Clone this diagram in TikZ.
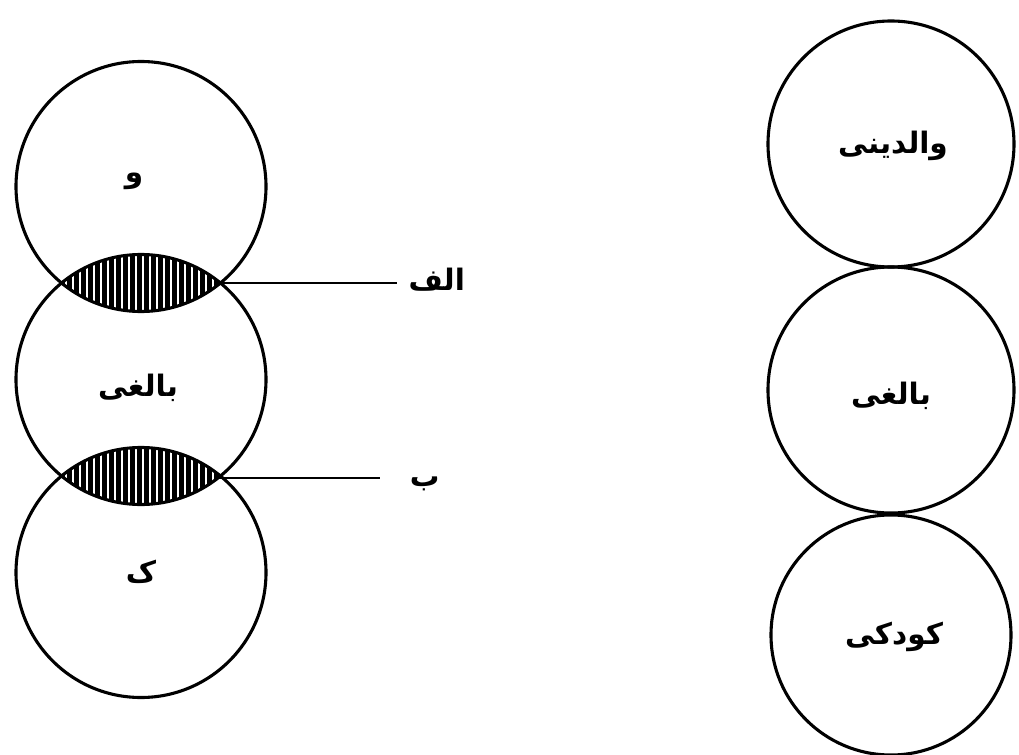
\documentclass[tikz,border=0pt]{standalone}
\usepackage{fontspec}
\newfontfamily\arabicfont[Script=Arabic]{DejaVu Sans}
\TeXXeTstate=1
\usepackage{tikz}
\usetikzlibrary{positioning,calc}

\tikzset{
  circ/.style={draw, circle, line width=2.2pt, inner sep=0pt},
  lbl/.style={font=\arabicfont\bfseries\fontsize{21}{24}\selectfont, inner sep=0pt},
  leader/.style={line width=1.6pt}
}
\newcommand{\fa}[1]{\beginR #1\endR}

\begin{document}
\begin{tikzpicture}[x=0.025cm, y=-0.025cm]
    \useasboundingbox (0,0) rectangle (1019,755);

    % Shaded overlaps
    \foreach \cy in {283, 476} {
      \begin{scope}
        \clip (141,\cy) ++(0,-96.5) circle[radius=125];
        \clip (141,\cy) ++(0,96.5) circle[radius=125];
        \fill (0,\cy-40) rectangle (300,\cy+40);
        \foreach \x in {66,73,...,220}
          \draw[white, line width=0.75pt] (\x,\cy-40) -- (\x,\cy+40);
      \end{scope}
    }

    % Left column
    \node[circ, minimum size=250*0.025cm] (v) at (141,186.5) {};
    \node[circ, minimum size=250*0.025cm] (b) at (141,379.5) {};
    \node[circ, minimum size=250*0.025cm] (k) at (141,572.5) {};
    \node[lbl] (vt) at (134,181) {\fa{و}};
    \node[lbl] (bt) at (138,388) {\fa{بالغی}};
    \node[lbl] (kt) at (141,572) {\fa{ک}};

    % Leaders
    \coordinate (pa) at (221,283);
    \coordinate (pb) at (218,478);
    \coordinate (ea) at (397,283);
    \coordinate (eb) at (380,478);
    \node[lbl, right=8pt of ea, yshift=2pt] (alef) {\fa{الف}};
    \node[lbl, right=21pt of eb, yshift=-4pt] (be) {\fa{ب}};
    \draw[leader] (pa) -- (ea);
    \draw[leader] (pb) -- (eb);

    % Right column
    \node[circ, minimum size=246*0.025cm] (valedeyni) at (891,144) {};
    \node[circ, minimum size=246*0.025cm] (balegi) at (891,390) {};
    \node[circ, minimum size=240*0.025cm] (kudaki) at (891,635) {};
    \node[lbl] at ($(valedeyni)+(2,2)$) {\fa{والدینی}};
    \node[lbl] at ($(balegi)+(0,6)$) {\fa{بالغی}};
    \node[lbl] at ($(kudaki)+(3,2)$) {\fa{کودکی}};
\end{tikzpicture}
\end{document}
